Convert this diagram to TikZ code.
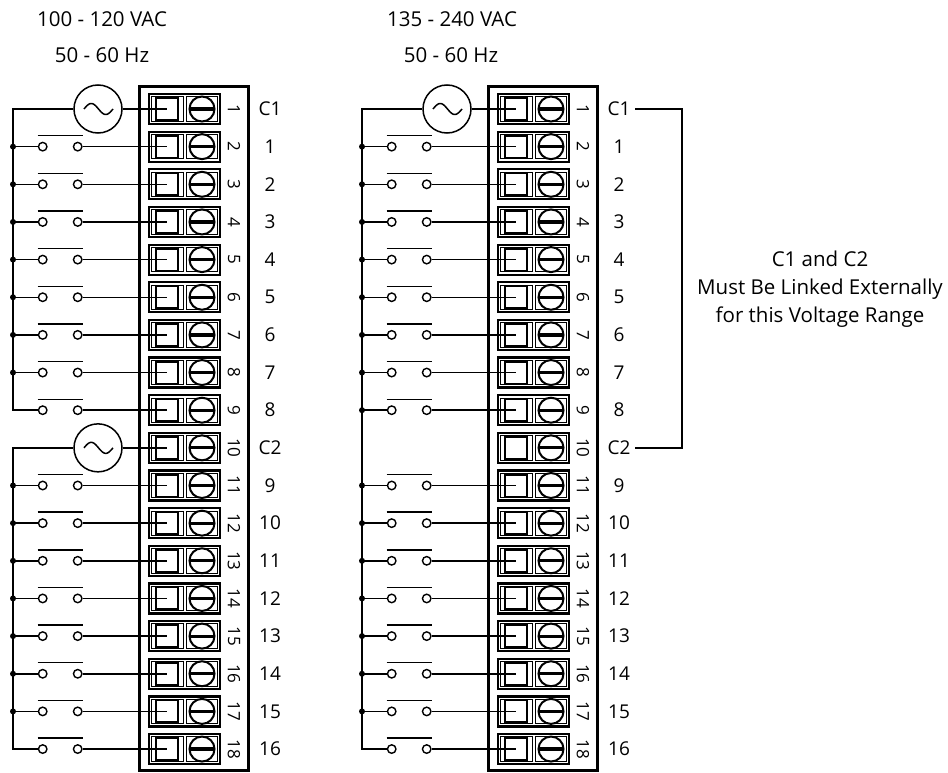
\documentclass[tikz,border=0pt]{standalone}
\usepackage{fontspec}
\setmainfont{Open Sans}
\begin{document}
\begin{tikzpicture}[x=1pt,y=-1pt,
 wire/.style={line width=1.5pt},
 contact/.style={circle, draw, line width=1.4pt, minimum size=8.5pt, inner sep=0pt, fill=white},
 junction/.style={circle, fill, minimum size=6pt, inner sep=0pt},
 source/.style={circle, draw, line width=1.5pt, minimum size=48pt, inner sep=0pt},
 lbl/.style={font=\fontsize{19}{23}\selectfont, inner sep=0pt},
 tnum/.style={font=\fontsize{17}{20}\selectfont, rotate=-90, inner sep=0pt},
 ttl/.style={font=\fontsize{20.5}{25}\selectfont, anchor=base, inner sep=0pt},
 blockbox/.style={line width=3pt},
 cellout/.style={line width=2.2pt},
 cellin/.style={line width=0.9pt},
 cellsq/.style={line width=2pt},
 screwbar/.style={line width=3.2pt},
 switchbar/.style={line width=1.4pt}]
\useasboundingbox (0,0) rectangle (948,773);

% titles
\node[ttl] (t1) at (102,27) {100 - 120 VAC};
\node[ttl] (t2) at (102,63) {50 - 60 Hz};
\node[ttl] (t3) at (452,27) {135 - 240 VAC};
\node[ttl] (t4) at (451,63) {50 - 60 Hz};

\foreach \p/\ox in {L/0,R/349} {
  % terminal block outline
  \draw[blockbox] (\ox+139,87) rectangle (\ox+248,770);
  \foreach \i/\lab in {1/C1,2/1,3/2,4/3,5/4,6/5,7/6,8/7,9/8,10/C2,11/9,12/10,13/11,14/12,15/13,16/14,17/15,18/16} {
    \pgfmathsetmacro\yy{109+(\i-1)*37.65}
    \draw[cellout] (\ox+149,\yy-15) rectangle (\ox+220,\yy+15);
    \draw[cellin] (\ox+151.8,\yy-12.2) rectangle (\ox+183.2,\yy+12.2);
    \draw[cellin] (\ox+186,\yy-12.2) rectangle (\ox+217.2,\yy+12.2);
    \draw[cellsq] (\ox+155.5,\yy-11) rectangle (\ox+177.5,\yy+11);
    \draw[cellsq] (\ox+202,\yy) circle[radius=12.5];
    \draw[screwbar] (\ox+190,\yy) -- (\ox+214,\yy);
    \coordinate (T\p\i) at (\ox+167,\yy);
    \coordinate (B\p\i) at (\ox+13,\yy);
    \node[tnum] (n\p\i) at (\ox+234,\yy) {\i};
    \node[lbl] (lab\p\i) at (\ox+270,\yy) {\lab};
  }
}

% switches
\foreach \p/\ox/\rows in {L/0/{2,3,4,5,6,7,8,9,11,12,13,14,15,16,17,18},R/349/{2,3,4,5,6,7,8,9,11,12,13,14,15,16,17,18}} {
  \foreach \i in \rows {
    \pgfmathsetmacro\yy{109+(\i-1)*37.65}
    \node[contact] (ca\p\i) at (\ox+42.7,\yy) {};
    \node[contact] (cb\p\i) at (\ox+77.7,\yy) {};
    \draw[switchbar] (\ox+37.7,\yy-11) -- (\ox+83.3,\yy-11);
    \draw[wire] (cb\p\i) -- (T\p\i);
  }
}

% AC sources
\foreach \p/\i/\ox in {L/1/0,L/10/0,R/1/349} {
  \pgfmathsetmacro\yy{109+(\i-1)*37.65}
  \node[source] (S\p\i) at (\ox+98,\yy) {};
  \draw[wire, domain=0:360, samples=50, variable=\t, smooth]
    plot ({\ox+84+\t/360*29}, {\yy-5.5*sin(\t)});
  \draw[wire] (S\p\i) -- (T\p\i);
}

% buses
\draw[wire] (SL1) -- (BL1) -- (BL9) -- (caL9);
\draw[wire] (SL10) -- (BL10) -- (BL18) -- (caL18);
\draw[wire] (SR1) -- (BR1) -- (BR18) -- (caR18);
\foreach \i in {2,...,8,11,12,13,14,15,16,17} {
  \draw[wire] (BL\i) -- (caL\i);
  \node[junction] (jL\i) at (BL\i) {};
}
\foreach \i in {2,...,9,11,12,13,14,15,16,17} {
  \draw[wire] (BR\i) -- (caR\i);
  \node[junction] (jR\i) at (BR\i) {};
}

% external link C1-C2
\coordinate (lkA) at (635,109);
\coordinate (lkB) at (682,109);
\coordinate (lkC) at (682,448);
\coordinate (lkD) at (635,448);
\draw[wire] (lkA) -- (lkB) -- (lkC) -- (lkD);

\node[font=\fontsize{20.5}{28}\selectfont, align=center, inner sep=0pt] (note) at (820,289)
  {C1 and C2\\Must Be Linked Externally\\for this Voltage Range};
\end{tikzpicture}
\end{document}
